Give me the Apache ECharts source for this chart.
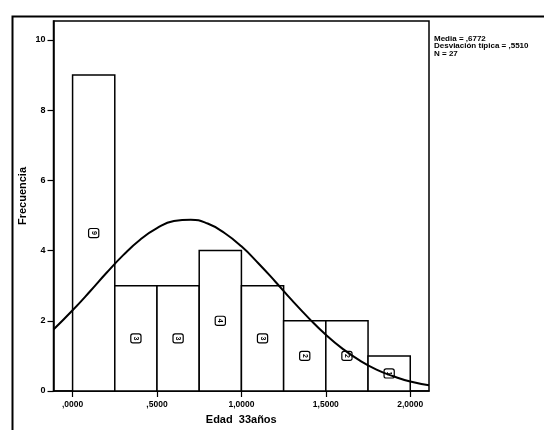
<!DOCTYPE html>
<html>
<head>
<meta charset="utf-8">
<script src="https://cdn.jsdelivr.net/npm/echarts@6/dist/echarts.min.js"></script>
<style>html,body{margin:0;padding:0;background:#fff}#c{width:544px;height:430px}</style>
</head>
<body>
<div id="c"></div>
<script>
// Histogram bins (Edad 33años)
var binStart = [0, 0.25, 0.5, 0.75, 1.0, 1.25, 1.5, 1.75];
var binEnd   = [0.25, 0.5, 0.75, 1.0, 1.25, 1.5, 1.75, 2.0];
var counts   = [9, 3, 3, 4, 3, 2, 2, 1];
// Normal curve
var curveX = [-0.113, 0, 0.1, 0.2, 0.3, 0.4, 0.5, 0.6, 0.7, 0.8, 0.9, 1.0, 1.1, 1.2, 1.3, 1.4, 1.5, 1.6, 1.7, 1.8, 1.9, 2.0, 2.111];
var curveY = [1.75, 2.30, 2.82, 3.36, 3.87, 4.31, 4.64, 4.84, 4.88, 4.77, 4.50, 4.12, 3.64, 3.12, 2.58, 2.07, 1.60, 1.20, 0.87, 0.61, 0.42, 0.27, 0.165];
var xTickValues = [0, 0.5, 1.0, 1.5, 2.0];
var xTickLabels = [',0000', ',5000', '1,0000', '1,5000', '2,0000'];
var yTickValues = [0, 2, 4, 6, 8, 10];
var statsLines = ['Media = ,6772', 'Desviación típica = ,5510', 'N = 27'];

var barData = binStart.map(function (s, i) { return [s, binEnd[i], counts[i]]; });
var lineData = curveX.map(function (x, i) { return [x, curveY[i]]; });

var chart = echarts.init(document.getElementById('c'), null, {renderer: 'canvas'});
var FONT = 'Liberation Sans';
chart.setOption({
  animation: false,
  backgroundColor: '#fff',
  grid: {left: 53.5, top: 21, right: 115, bottom: 37.5, show: true, borderColor: '#000', borderWidth: 1.5, backgroundColor: 'transparent'},
  xAxis: {
    type: 'value', min: -0.113, max: 2.111,
    axisLine: {show: true, onZero: false, lineStyle: {color: '#000', width: 1.5}},
    axisTick: {show: true, length: 6, inside: false, customValues: xTickValues, lineStyle: {color: '#000', width: 1.2}},
    axisLabel: {customValues: xTickValues, margin: 9, color: '#000', fontFamily: FONT, fontWeight: 'bold', fontSize: 8.5,
      formatter: function (v) { var i = xTickValues.indexOf(v); return i >= 0 ? xTickLabels[i] : ''; }},
    splitLine: {show: false},
    name: 'Edad  33años', nameLocation: 'middle', nameGap: 23,
    nameTextStyle: {color: '#000', fontFamily: FONT, fontWeight: 'bold', fontSize: 11}
  },
  yAxis: {
    type: 'value', min: 0, max: 10.54,
    axisLine: {show: true, onZero: false, lineStyle: {color: '#000', width: 1.5}},
    axisTick: {show: true, length: 6, inside: false, customValues: yTickValues, lineStyle: {color: '#000', width: 1.2}},
    axisLabel: {customValues: yTickValues, margin: 8, color: '#000', fontFamily: FONT, fontWeight: 'bold', fontSize: 9},
    splitLine: {show: false}
  },
  graphic: [
    {type: 'rect', left: 10, top: 14, shape: {x: 0, y: 0, width: 560, height: 440}, style: {fill: 'none', stroke: '#000', lineWidth: 2}, silent: true, z: 100},
    {type: 'text', x: 23, y: 196, rotation: Math.PI / 2, style: {text: 'Frecuencia', fill: '#000', font: 'bold 11px "Liberation Sans"', textAlign: 'center', textVerticalAlign: 'middle'}},
    {type: 'text', x: 434, y: 35, style: {text: statsLines.join('\n'), fill: '#000', font: 'bold 8px "Liberation Sans"', lineHeight: 7.5, textAlign: 'left', textVerticalAlign: 'top'}}
  ],
  series: [
    {
      type: 'custom',
      data: barData,
      encode: {x: [0, 1], y: 2},
      renderItem: function (params, api) {
        var p0 = api.coord([api.value(0), api.value(2)]);
        var p1 = api.coord([api.value(1), 0]);
        var mid = api.coord([(api.value(0) + api.value(1)) / 2, api.value(2) / 2]);
        return {
          type: 'group',
          children: [
            {type: 'rect', shape: {x: p0[0], y: p0[1], width: p1[0] - p0[0], height: p1[1] - p0[1]},
             style: {fill: '#fff', stroke: '#000', lineWidth: 1.5}},
            {type: 'text', x: mid[0], y: mid[1], rotation: -Math.PI / 2,
             style: {text: String(api.value(2)), fill: '#000', font: 'bold 7px "Liberation Sans"', align: 'center', verticalAlign: 'middle',
                     borderColor: '#000', borderWidth: 1.2, borderRadius: 1.5, padding: [1, 2, 1, 2], backgroundColor: '#fff'}}
          ]
        };
      },
      z: 2
    },
    {
      type: 'line', data: lineData, smooth: true, showSymbol: false,
      lineStyle: {color: '#000', width: 2}, z: 5
    }
  ]
});
</script>
</body>
</html>
